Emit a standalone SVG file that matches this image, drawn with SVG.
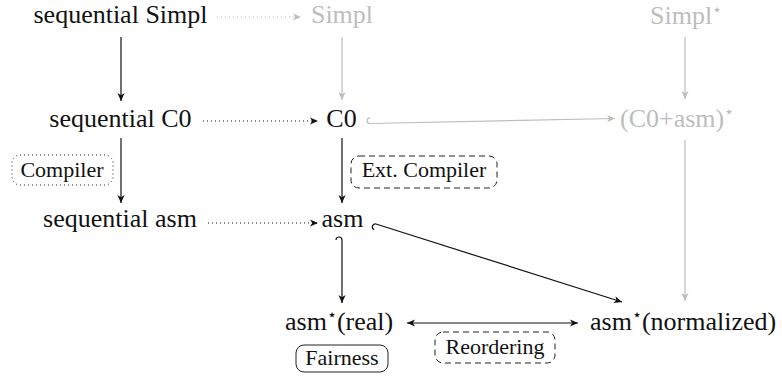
<svg xmlns="http://www.w3.org/2000/svg" width="782" height="376" viewBox="0 0 782 376" font-family="Liberation Serif">
<defs>
<marker id="ah" markerUnits="userSpaceOnUse" markerWidth="12" markerHeight="10" viewBox="-9 -5 10 10" refX="0" refY="0" orient="auto-start-reverse">
<path d="M0,0 L-8,-3.6 L-5.8,0 L-8,3.6 Z" fill="#111"/>
</marker>
<marker id="ahg" markerUnits="userSpaceOnUse" markerWidth="12" markerHeight="10" viewBox="-9 -5 10 10" refX="0" refY="0" orient="auto">
<path d="M0,0 L-8,-3.6 L-5.8,0 L-8,3.6 Z" fill="#bdbdbd"/>
</marker>
</defs>
<style>
.box{fill:none;stroke:#222;stroke-width:1}
.k{fill:none;stroke:#111;stroke-width:1.2}
.kg{fill:none;stroke:#bdbdbd;stroke-width:1.2}
.dot{stroke-dasharray:1 3}
.dash{stroke-dasharray:6 4}
</style>

<g id="connectors">
<line class="kg dot" x1="217" y1="17" x2="301" y2="17" marker-end="url(#ahg)"/>
<line class="k" x1="121" y1="37" x2="121" y2="101" marker-end="url(#ah)"/>
<line class="kg" x1="342" y1="37" x2="342" y2="100" marker-end="url(#ahg)"/>
<line class="kg" x1="685" y1="37" x2="685" y2="99" marker-end="url(#ahg)"/>
<line class="k dot" x1="203" y1="121" x2="318" y2="121" marker-end="url(#ah)"/>
<path class="kg" d="M370,123.5 A2.8,2.8 0 0 1 370,117.9"/>
<line class="kg" x1="370" y1="123.5" x2="615" y2="118.5" marker-end="url(#ahg)"/>
<line class="k" x1="121" y1="138" x2="121" y2="203" marker-end="url(#ah)"/>
<line class="k" x1="342" y1="138" x2="342" y2="203" marker-end="url(#ah)"/>
<line class="kg" x1="685" y1="140" x2="685" y2="301" marker-end="url(#ahg)"/>
<line class="k dot" x1="208" y1="223" x2="318" y2="223" marker-end="url(#ah)"/>
<path class="k" d="M342,240 A3,3 0 0 0 336,240"/>
<line class="k" x1="342" y1="240" x2="342" y2="303" marker-end="url(#ah)"/>
<path class="k" d="M376,224 A3,3 0 0 0 374.2,229.7"/>
<line class="k" x1="376" y1="224" x2="622" y2="302" marker-end="url(#ah)"/>
<line class="k" x1="407" y1="323" x2="578" y2="323" marker-start="url(#ah)" marker-end="url(#ah)"/>
</g>

<g id="n-seq-simpl" font-family="Liberation Serif"><text x="120.5" y="23" text-anchor="middle" font-size="26" fill="#111">sequential Simpl</text></g>
<g id="n-simpl" font-family="Liberation Serif"><text x="342" y="23" text-anchor="middle" font-size="26" fill="#bdbdbd">Simpl</text></g>
<g id="n-simpl-star" font-family="Liberation Serif"><text x="650" y="24" font-size="26" fill="#bdbdbd">Simpl<tspan dy="-9" font-size="16">⋆</tspan></text></g>
<g id="n-seq-c0" font-family="Liberation Serif"><text x="120.5" y="127" text-anchor="middle" font-size="26" fill="#111">sequential C0</text></g>
<g id="n-c0" font-family="Liberation Serif"><text x="341.5" y="127" text-anchor="middle" font-size="26" fill="#111">C0</text></g>
<g id="n-c0asm-star" font-family="Liberation Serif"><text x="620" y="127" font-size="26" fill="#bdbdbd">(C0+asm)<tspan dy="-10" font-size="16">⋆</tspan></text></g>
<g id="n-seq-asm" font-family="Liberation Serif"><text x="120" y="227" text-anchor="middle" font-size="26" fill="#111">sequential asm</text></g>
<g id="n-asm" font-family="Liberation Serif"><text x="342.5" y="227" text-anchor="middle" font-size="26" fill="#111">asm</text></g>
<g id="n-asm-real" font-family="Liberation Serif"><text x="285" y="330" font-size="26" fill="#111">asm<tspan dy="-10" font-size="16">⋆</tspan><tspan dy="10">(real)</tspan></text></g>
<g id="n-asm-norm" font-family="Liberation Serif"><text x="590" y="330" font-size="26" fill="#111">asm<tspan dy="-10" font-size="16">⋆</tspan><tspan dy="10">(normalized)</tspan></text></g>

<g id="l-compiler" font-family="Liberation Serif">
<rect class="box dot" x="12" y="155" width="101" height="30" rx="8"/>
<text x="62" y="177" text-anchor="middle" font-size="22" fill="#111">Compiler</text>
</g>
<g id="l-ext-compiler" font-family="Liberation Serif">
<rect class="box dash" x="351" y="156" width="146" height="32" rx="8"/>
<text x="424" y="177" text-anchor="middle" font-size="22" fill="#111">Ext. Compiler</text>
</g>
<g id="l-fairness" font-family="Liberation Serif">
<rect class="box" x="296" y="345" width="92" height="27" rx="8"/>
<text x="342" y="365" text-anchor="middle" font-size="22" fill="#111">Fairness</text>
</g>
<g id="l-reordering" font-family="Liberation Serif">
<rect class="box dash" x="435" y="332" width="120" height="31" rx="8"/>
<text x="495" y="354" text-anchor="middle" font-size="22" fill="#111">Reordering</text>
</g>
</svg>
